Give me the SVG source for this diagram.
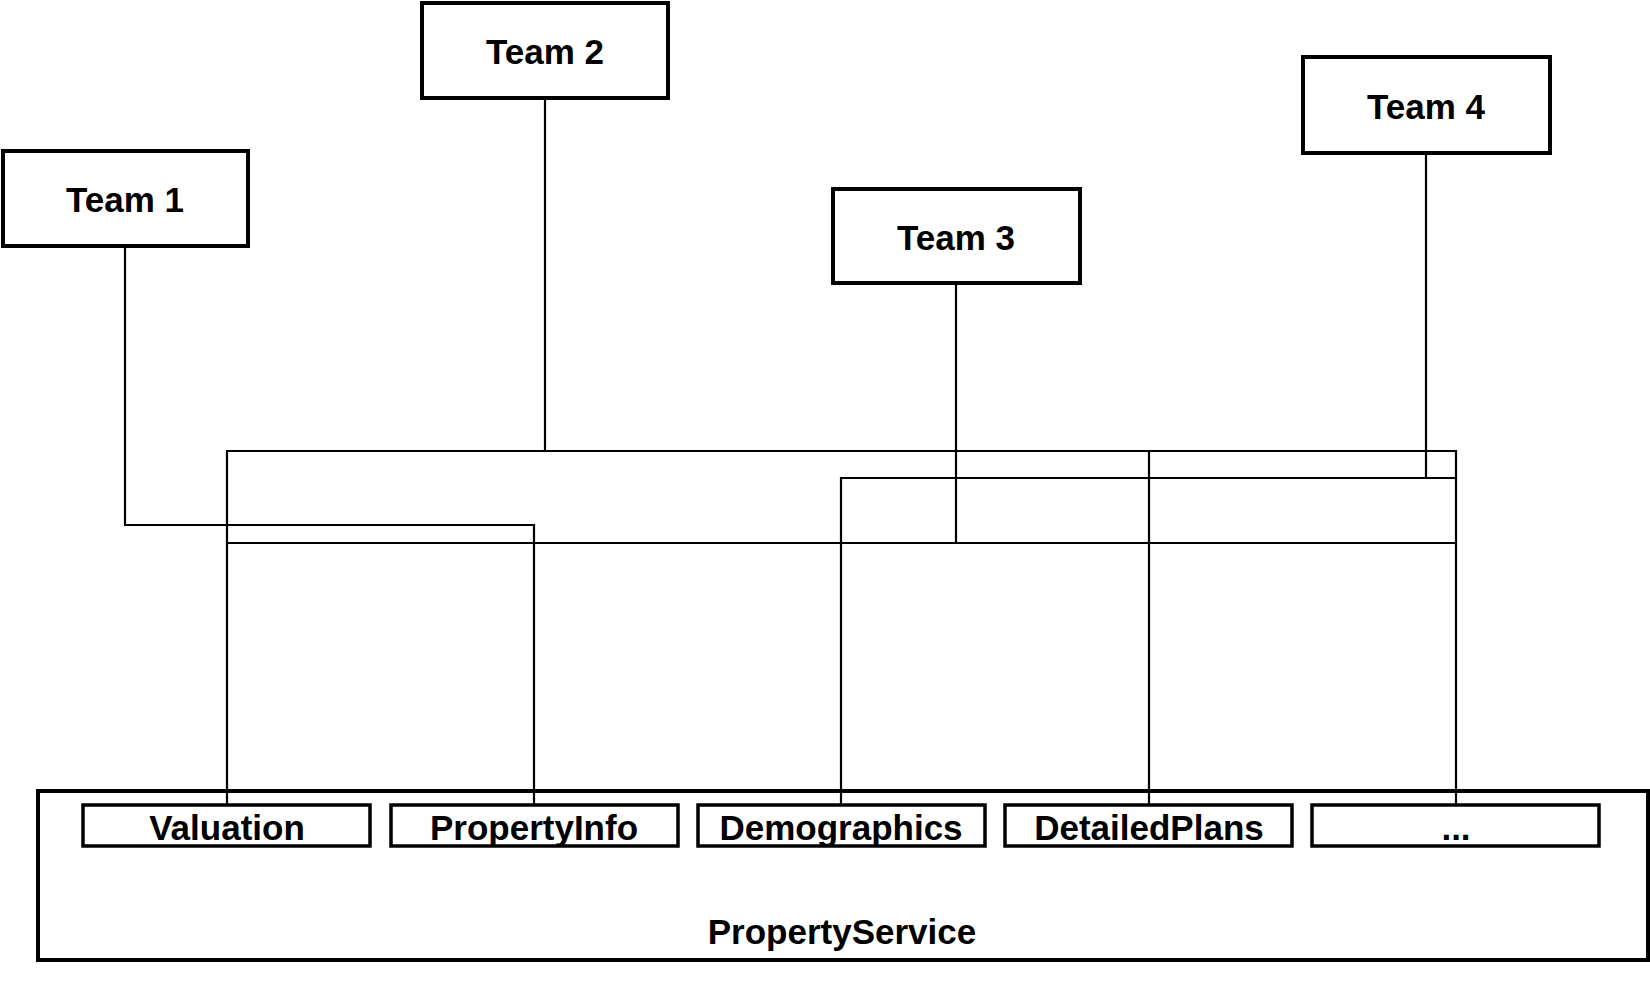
<svg xmlns="http://www.w3.org/2000/svg" width="1650" height="981" viewBox="0 0 1650 981">
<style>
.team{fill:#fff;stroke:#000;stroke-width:4}
.sub{fill:#fff;stroke:#000;stroke-width:3.5}
.outer{fill:#fff;stroke:#000;stroke-width:4}
.conn{fill:none;stroke:#000;stroke-width:2.2}
text{font-family:"Liberation Sans",Arial,sans-serif;font-weight:bold;font-size:35px;fill:#000;text-anchor:middle}
</style>
<rect width="1650" height="981" fill="#fff"/>
<g id="propertyservice">
<rect class="outer" x="38" y="791" width="1610" height="169"/>
<text x="842" y="944">PropertyService</text>
</g>
<g id="valuation"><rect class="sub" x="83" y="805" width="287" height="41"/><text x="227" y="840">Valuation</text></g>
<g id="propertyinfo"><rect class="sub" x="391" y="805" width="287" height="41"/><text x="534" y="840">PropertyInfo</text></g>
<g id="demographics"><rect class="sub" x="698" y="805" width="287" height="41"/><text x="841" y="840">Demographics</text></g>
<g id="detailedplans"><rect class="sub" x="1005" y="805" width="287" height="41"/><text x="1149" y="840">DetailedPlans</text></g>
<g id="more"><rect class="sub" x="1312" y="805" width="287" height="41"/><text x="1456" y="840">...</text></g>
<g id="connectors">
<polyline class="conn" points="125,246 125,525 534,525 534,805"/>
<line class="conn" x1="545" y1="98" x2="545" y2="451"/>
<polyline class="conn" points="227,805 227,451 1456,451 1456,805"/>
<line class="conn" x1="1149" y1="451" x2="1149" y2="805"/>
<line class="conn" x1="956" y1="283" x2="956" y2="543"/>
<line class="conn" x1="227" y1="543" x2="1456" y2="543"/>
<line class="conn" x1="1426" y1="153" x2="1426" y2="478"/>
<polyline class="conn" points="841,805 841,478 1456,478"/>
</g>
<g id="team1"><rect class="team" x="3" y="151" width="245" height="95"/><text x="125" y="212">Team 1</text></g>
<g id="team2"><rect class="team" x="422" y="3" width="246" height="95"/><text x="545" y="64">Team 2</text></g>
<g id="team3"><rect class="team" x="833" y="189" width="247" height="94"/><text x="956" y="250">Team 3</text></g>
<g id="team4"><rect class="team" x="1303" y="57" width="247" height="96"/><text x="1426" y="119">Team 4</text></g>
</svg>
